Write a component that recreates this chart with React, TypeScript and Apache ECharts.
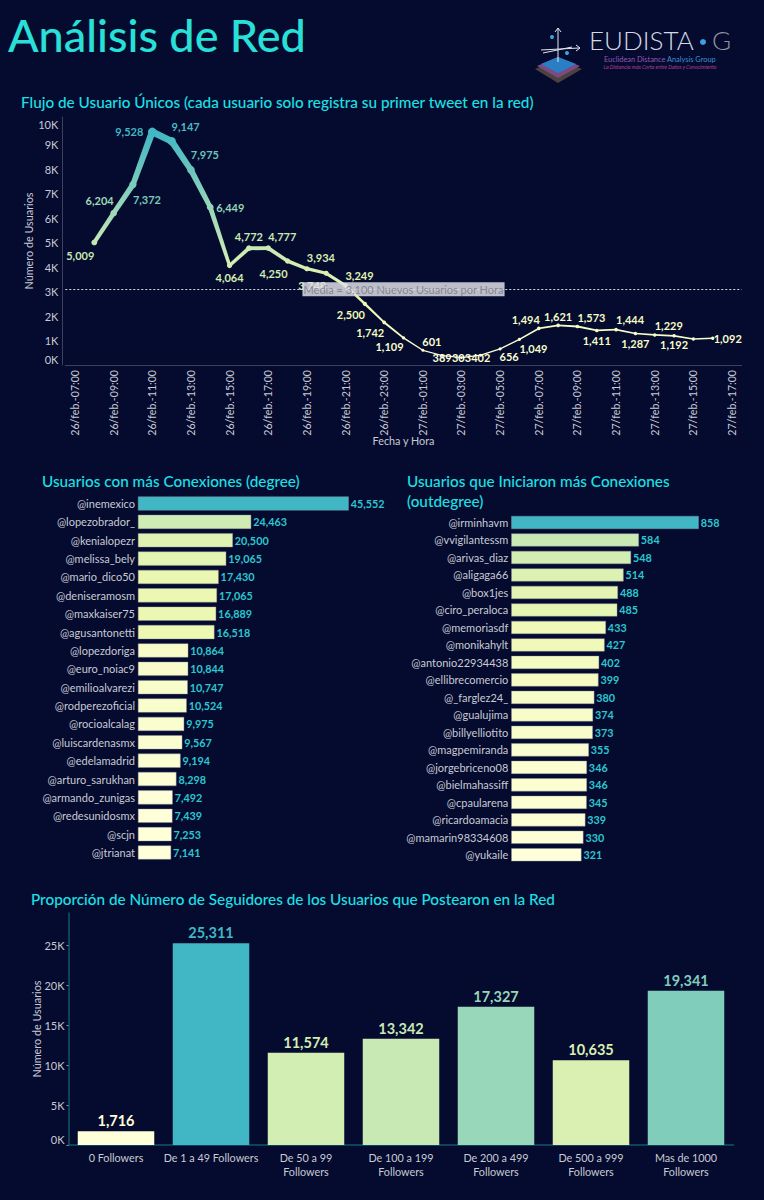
import React, { useEffect, useRef } from "react";
import * as echarts from "echarts";

const FONT = "Lato, 'Noto Sans', sans-serif";
const BG = "#040b2e";
const TITLE = "#1ce0e6";
const AXIS_TEXT = "#c9cad4";

const flowHours = [
  "26/feb.-07:00","26/feb.-08:00","26/feb.-09:00","26/feb.-10:00","26/feb.-11:00","26/feb.-12:00","26/feb.-13:00",
  "26/feb.-14:00","26/feb.-15:00","26/feb.-16:00","26/feb.-17:00","26/feb.-18:00","26/feb.-19:00","26/feb.-20:00",
  "26/feb.-21:00","26/feb.-22:00","26/feb.-23:00","27/feb.-00:00","27/feb.-01:00","27/feb.-02:00","27/feb.-03:00",
  "27/feb.-04:00","27/feb.-05:00","27/feb.-06:00","27/feb.-07:00","27/feb.-08:00","27/feb.-09:00","27/feb.-10:00",
  "27/feb.-11:00","27/feb.-12:00","27/feb.-13:00","27/feb.-14:00","27/feb.-15:00","27/feb.-16:00","27/feb.-17:00",
];
// first value belongs to 26/feb.-08:00
const flowValues = [
  5009, 6204, 7372, 9528, 9147, 7975, 6449, 4064, 4772, 4777, 4250, 3934, 3748, 3249, 2500, 1742, 1109,
  601, 389, 303, 402, 656, 1049, 1494, 1621, 1573, 1411, 1444, 1287, 1229, 1192, 1065, 1092,
];
const flowLabelShift: ([number, number] | null)[] = [
  [-14, 13], [-14, -13], [14, 15], [-23, 0], [14, -15], [14, -15], [20, 0], [0, 12], [0, -12], [14, -12],
  [-14, 12], [14, -11], [-14, 12], [14, -10], [-14, 11], [-14, 10], [-14, 9], [9, -9], [0, 2], [0, 0], [0, 2],
  [9, 8], [14, 9], [-13, -9], [0, -9], [14, -9], [0, 10], [14, -10], [0, 10], [14, -9], [0, 9], null, [15, 0],
];
const flowTicks = [0, 1000, 2000, 3000, 4000, 5000, 6000, 7000, 8000, 9000, 10000];
const flowMean = 3100;

const degreeUsers = [
  "@inemexico","@lopezobrador_","@kenialopezr","@melissa_bely","@mario_dico50","@deniseramosm","@maxkaiser75",
  "@agusantonetti","@lopezdoriga","@euro_noiac9","@emilioalvarezi","@rodperezoficial","@rocioalcalag",
  "@luiscardenasmx","@edelamadrid","@arturo_sarukhan","@armando_zunigas","@redesunidosmx","@scjn","@jtrianat",
];
const degreeValues = [
  45552, 24463, 20500, 19065, 17430, 17065, 16889, 16518, 10864, 10844, 10747, 10524, 9975, 9567, 9194, 8298,
  7492, 7439, 7253, 7141,
];
const outUsers = [
  "@irminhavm","@vvigilantessm","@arivas_diaz","@aligaga66","@box1jes","@ciro_peraloca","@memoriasdf","@monikahylt",
  "@antonio22934438","@ellibrecomercio","@_farglez24_","@gualujima","@billyelliotito","@magpemiranda",
  "@jorgebriceno08","@bielmahassiff","@cpaularena","@ricardoamacia","@mamarin98334608","@yukaile",
];
const outValues = [858, 584, 548, 514, 488, 485, 433, 427, 402, 399, 380, 374, 373, 355, 346, 346, 345, 339, 330, 321];

const followerBands = [
  "0 Followers","De 1 a 49 Followers","De 50 a 99\nFollowers","De 100 a 199\nFollowers","De 200 a 499\nFollowers",
  "De 500 a 999\nFollowers","Mas de 1000\nFollowers",
];
const followerValues = [1716, 25311, 11574, 13342, 17327, 10635, 19341];
const followerTicks = [0, 5000, 10000, 15000, 20000, 25000];

const PALETTE = [
  [255, 255, 217], [237, 248, 177], [199, 233, 180], [127, 205, 187], [65, 182, 196],
];
function shade(v: number, list: number[]) {
  const lo = Math.min(...list);
  const hi = Math.max(...list);
  const t = ((v - lo) / (hi - lo)) * (PALETTE.length - 1);
  const i = Math.min(Math.floor(t), PALETTE.length - 2);
  const f = t - i;
  const c = PALETTE[i].map((a, k) => Math.round(a + (PALETTE[i + 1][k] - a) * f));
  return `rgb(${c[0]},${c[1]},${c[2]})`;
}
const fmt = (v: number) => v.toLocaleString("en-US");
const kilo = (v: number) => `${v / 1000}K`;
const strokeOf = (v: number) => 0.9 + 5.9 * (v / 9528);

function flowSegment(params: any, api: any) {
  const i = params.dataIndex;
  const v = flowValues[i];
  const [x, y] = api.coord([i + 1, v]);
  const children: any[] = [];
  if (i < flowValues.length - 1) {
    const n = flowValues[i + 1];
    const [x2, y2] = api.coord([i + 2, n]);
    const len = Math.hypot(x2 - x, y2 - y);
    const nx = -(y2 - y) / len;
    const ny = (x2 - x) / len;
    const a = strokeOf(v) / 2;
    const b = strokeOf(n) / 2;
    children.push({
      type: "polygon",
      shape: {
        points: [
          [x + nx * a, y + ny * a],
          [x2 + nx * b, y2 + ny * b],
          [x2 - nx * b, y2 - ny * b],
          [x - nx * a, y - ny * a],
        ],
      },
      style: {
        fill: new echarts.graphic.LinearGradient(
          x, y, x2, y2,
          [{ offset: 0, color: shade(v, flowValues) }, { offset: 1, color: shade(n, flowValues) }],
          true
        ),
      },
    });
  }
  children.push({
    type: "circle",
    shape: { cx: x, cy: y, r: strokeOf(v) * 0.5 + 0.9 },
    style: { fill: shade(v, flowValues) },
  });
  return { type: "group", children };
}

function flowLabel(params: any, api: any) {
  const i = params.dataIndex;
  const shift = flowLabelShift[i];
  if (!shift) return { type: "group", children: [] };
  const v = flowValues[i];
  const [x, y] = api.coord([i + 1, v]);
  return {
    type: "text",
    x: x + shift[0],
    y: y + shift[1],
    style: {
      text: fmt(v),
      fill: shade(v, flowValues),
      fontFamily: FONT,
      fontSize: 11,
      fontWeight: 700,
      align: "center",
      verticalAlign: "middle",
    },
  };
}

function barSeries(idx: number, values: number[]) {
  return {
    type: "bar",
    xAxisIndex: idx,
    yAxisIndex: idx,
    barWidth: idx === 1 ? 14 : 13,
    data: values.map((v) => ({ value: v, itemStyle: { color: shade(v, values), borderColor: "#8f93a0", borderWidth: 0.4 } })),
    label: {
      show: true,
      position: "right",
      distance: 2,
      formatter: (p: any) => fmt(p.value),
      color: "#2cc6d0",
      fontFamily: FONT,
      fontSize: 10.8,
      fontWeight: 700,
    },
  };
}

const titleStyle = () => ({ color: TITLE, fontFamily: FONT, fontSize: 15.3, fontWeight: 500 as any, lineHeight: 20 });

function logoGraphics() {
  const white = "#e4e6ee";
  return [
    { type: "polygon", shape: { points: [[535, 69], [558, 60], [582, 69], [558, 83]] }, style: { fill: "#4b423e" } },
    { type: "polygon", shape: { points: [[537, 66], [558, 57], [580, 66], [558, 78]] }, style: { fill: "#7a4a86" } },
    { type: "polygon", shape: { points: [[541, 64], [558, 57], [576, 64], [558, 73]] }, style: { fill: "#2a7fc4" } },
    { type: "line", shape: { x1: 558, y1: 28, x2: 558, y2: 62 }, style: { stroke: white, lineWidth: 1 } },
    { type: "polyline", shape: { points: [[555, 32], [558, 28], [561, 32]] }, style: { stroke: white, fill: "none", lineWidth: 1 } },
    { type: "line", shape: { x1: 541, y1: 50, x2: 579, y2: 48 }, style: { stroke: white, lineWidth: 1 } },
    { type: "line", shape: { x1: 543, y1: 53, x2: 572, y2: 47 }, style: { stroke: white, lineWidth: 1 } },
    { type: "polyline", shape: { points: [[576, 45], [580, 48], [576, 51]] }, style: { stroke: white, fill: "none", lineWidth: 1 } },
    { type: "circle", shape: { cx: 552, cy: 37, r: 2 }, style: { fill: "#3aa6d8" } },
    { type: "circle", shape: { cx: 567, cy: 53, r: 2 }, style: { fill: "#3aa6d8" } },
    { type: "text", x: 589, y: 40, style: { text: "EUDISTA", fill: "#d5d9e4", fontFamily: FONT, fontSize: 26, fontWeight: 300, verticalAlign: "middle", align: "left" } },
    { type: "circle", shape: { cx: 703, cy: 42, r: 3 }, style: { fill: "#3f9fe0" } },
    { type: "text", x: 712, y: 40, style: { text: "G", fill: "#8f939c", fontFamily: FONT, fontSize: 26, fontWeight: 300, verticalAlign: "middle", align: "left" } },
    { type: "text", x: 604, y: 59.5, style: { text: "Euclidean Distance", fill: "#9a55b5", fontFamily: FONT, fontSize: 7.4, verticalAlign: "middle", align: "left" } },
    { type: "text", x: 667, y: 59.5, style: { text: "Analysis Group", fill: "#3f8fd8", fontFamily: FONT, fontSize: 7.4, verticalAlign: "middle", align: "left" } },
    { type: "text", x: 660, y: 67, style: { text: "La Distancia más Corta entre Datos y Conocimiento", fill: "#b0409a", fontFamily: FONT, fontSize: 5.3, fontStyle: "italic", verticalAlign: "middle", align: "center" } },
  ];
}

function buildOption() {
  const hBar = (gridIndex: number, users: string[], max: number) => ({
    y: {
      type: "category", gridIndex, inverse: true, data: users,
      axisLine: { show: false }, axisTick: { show: false },
      axisLabel: { color: AXIS_TEXT, fontFamily: FONT, fontSize: 11, margin: 3 },
    },
    x: { type: "value", gridIndex, min: 0, max, show: false },
  });
  const deg = hBar(1, degreeUsers, 45552);
  const out = hBar(2, outUsers, 858);
  return {
    animation: false,
    backgroundColor: BG,
    title: [
      { text: "Análisis de Red", left: 8, top: 12, padding: 0, textStyle: { color: "#28e0d8", fontFamily: FONT, fontSize: 45, fontWeight: 500 as any } },
      { text: "Flujo de Usuario Únicos (cada usuario solo registra su primer tweet en la red)", left: 21, top: 92, padding: 0, textStyle: titleStyle() },
      { text: "Usuarios con más Conexiones (degree)", left: 42, top: 471, padding: 0, textStyle: titleStyle() },
      { text: "Usuarios que Iniciaron más Conexiones\n(outdegree)", left: 407, top: 471, padding: 0, textStyle: titleStyle() },
      { text: "Proporción de Número de Seguidores de los Usuarios que Postearon en la Red", left: 31, top: 889, padding: 0, textStyle: titleStyle() },
    ],
    grid: [
      { left: 65.3, top: 117, width: 676.4, height: 248 },
      { left: 138, top: 494.3, width: 210.7, height: 367.4 },
      { left: 511.3, top: 513.75, width: 187.4, height: 349.8 },
      { left: 68.5, top: 913, width: 665, height: 232 },
    ],
    xAxis: [
      {
        type: "category", gridIndex: 0, data: flowHours,
        name: "Fecha y Hora", nameLocation: "middle", nameGap: 70, nameMoveOverlap: false,
        nameTextStyle: { color: AXIS_TEXT, fontFamily: FONT, fontSize: 10.8 },
        axisLine: { lineStyle: { color: "#3b425c" } },
        axisTick: { show: false },
        axisLabel: { interval: 1, rotate: 90, color: AXIS_TEXT, fontFamily: FONT, fontSize: 10.6, margin: 5 },
      },
      deg.x,
      out.x,
      {
        type: "category", gridIndex: 3, data: followerBands,
        axisLine: { lineStyle: { color: "#12566a", width: 1.5 } },
        axisTick: { lineStyle: { color: "#8a93a5" }, length: 2 },
        axisLabel: { interval: 0, color: AXIS_TEXT, fontFamily: FONT, fontSize: 10.8, lineHeight: 14, margin: 5 },
      },
    ],
    yAxis: [
      {
        type: "value", gridIndex: 0, min: 0, max: 10135, offset: 3,
        name: "Número de Usuarios", nameLocation: "middle", nameGap: 28, nameMoveOverlap: false,
        nameTextStyle: { color: AXIS_TEXT, fontFamily: FONT, fontSize: 10.8 },
        splitLine: { show: false },
        axisLine: { show: true, lineStyle: { color: "#3b425c" } },
        axisTick: { show: false },
        axisLabel: {
          customValues: flowTicks,
          formatter: (v: number) => (v === 10000 ? `{top|${kilo(v)}}` : kilo(v)),
          rich: { top: { padding: [8, 0, 0, 0], color: AXIS_TEXT, fontFamily: FONT, fontSize: 11 } },
          verticalAlignMinLabel: "bottom",
          color: AXIS_TEXT, fontFamily: FONT, fontSize: 11, margin: 4,
        },
      },
      deg.y,
      out.y,
      {
        type: "value", gridIndex: 3, min: 0, max: 29100,
        name: "Número de Usuarios", nameLocation: "middle", nameGap: 27, nameMoveOverlap: false,
        nameTextStyle: { color: AXIS_TEXT, fontFamily: FONT, fontSize: 10.8 },
        splitLine: { show: false },
        axisLine: { show: true, lineStyle: { color: "#12566a", width: 1.5 } },
        axisTick: { show: true, customValues: followerTicks, length: 2, lineStyle: { color: "#8a93a5" } },
        axisLabel: {
          customValues: followerTicks,
          formatter: kilo,
          verticalAlignMinLabel: "bottom",
          color: AXIS_TEXT, fontFamily: FONT, fontSize: 11, margin: 4,
        },
      },
    ],
    series: [
      {
        type: "custom", name: "flujo", xAxisIndex: 0, yAxisIndex: 0, z: 2, clip: false,
        renderItem: flowSegment,
        encode: { x: 0, y: 1 },
        data: flowValues.map((v, i) => [i + 1, v]),
      },
      {
        type: "custom", name: "etiquetas", xAxisIndex: 0, yAxisIndex: 0, z: 3, clip: false,
        renderItem: flowLabel,
        encode: { x: 0, y: 1 },
        data: flowValues.map((v, i) => [i + 1, v]),
        markLine: {
          silent: true, symbol: "none", z: 6,
          lineStyle: { color: "#d8dae2", type: [2, 2], width: 1 },
          label: {
            position: "middle",
            formatter: `Media = ${fmt(flowMean)} Nuevos Usuarios por Hora`,
            color: "#85868f", fontFamily: FONT, fontSize: 11,
            backgroundColor: "rgba(222,222,230,0.85)",
            padding: [2, 1, 1, 1], verticalAlign: "middle", distance: 0,
          },
          data: [{ yAxis: flowMean }],
        },
      },
      barSeries(1, degreeValues),
      barSeries(2, outValues),
      {
        type: "bar", xAxisIndex: 3, yAxisIndex: 3, barWidth: 76.5,
        data: followerValues.map((v) => {
          const color = shade(v, followerValues);
          return {
            value: v,
            itemStyle: { color },
            label: { color },
          };
        }),
        label: {
          show: true, position: "top", distance: 3,
          formatter: (p: any) => fmt(p.value),
          fontFamily: FONT, fontSize: 14.5, fontWeight: 700,
        },
      },
    ],
    graphic: logoGraphics(),
  };
}

export default function App() {
  const ref = useRef<HTMLDivElement>(null);
  useEffect(() => {
    document.body.style.margin = "0";
    document.body.style.background = BG;
    const chart = echarts.init(ref.current!, undefined, { renderer: "svg" });
    chart.setOption(buildOption() as any);
    return () => chart.dispose();
  }, []);
  return <div ref={ref} style={{ width: 764, height: 1200 }} />;
}
